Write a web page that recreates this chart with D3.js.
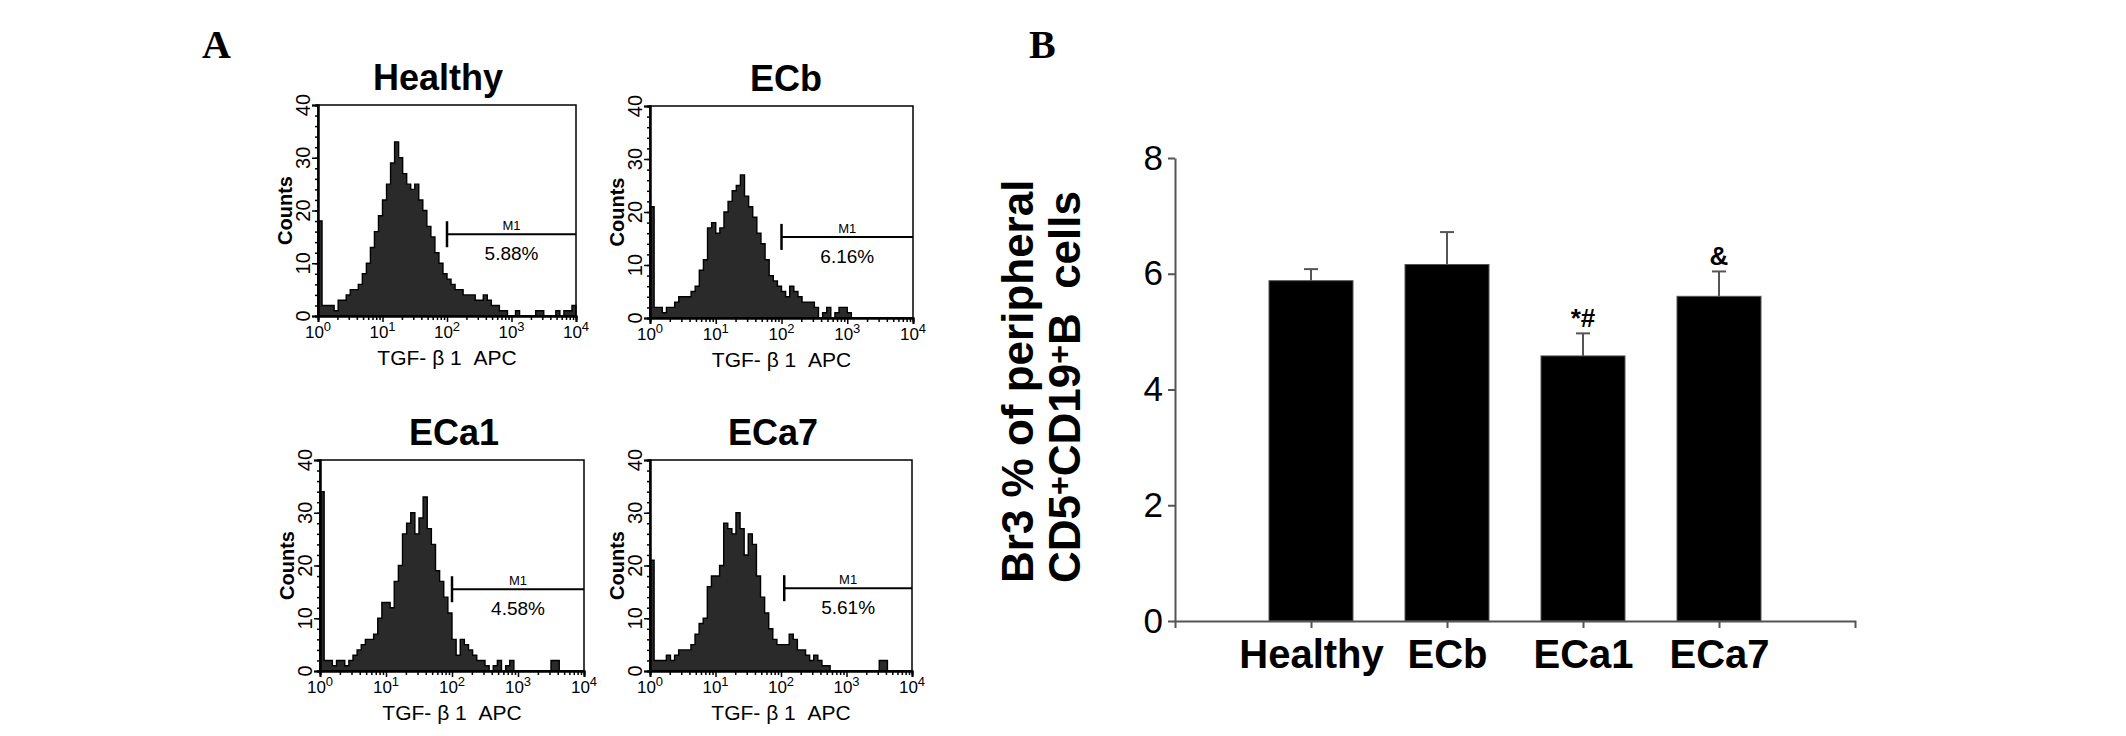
<!DOCTYPE html>
<html>
<head>
<meta charset="utf-8">
<script src="https://cdn.jsdelivr.net/npm/d3@7"></script>
<style>
body{margin:0;background:#fff;}
svg text{font-family:"Liberation Sans",Arial,Helvetica,sans-serif;fill:#000;}
</style>
</head>
<body>
<svg id="chart" width="2126" height="736"></svg>
<script>
// ---- panel A : flow histograms (64 channels, 16 per decade) ----
const hist_labels=["Healthy","ECb","ECa1","ECa7"];
const hist_healthy=[18,2,2,2,1,3,3,4,5,5,6,8,10,13,16,19, 22,25,29,33,30,27,25,24,25,22,20,17,15,12,10,8, 7,6,5,5,4,4,4,3,3,4,3,2,2,1,1,0, 0,1,0,0,0,0,1,1,0,0,0,1,0,1,1,2];
const hist_ecb=[21,2,2,1,2,2,3,4,4,4,5,6,9,11,17,18, 16,17,20,22,24,25,27,23,21,19,16,14,11,8,7,6, 5,4,6,5,4,3,3,3,2,0,1,2,0,1,2,2, 1,0,0,0,0,0,0,0,0,0,0,0,0,0,0,0];
const hist_eca1=[34,2,2,1,2,2,1,2,3,4,5,6,6,7,10,13, 13,12,17,20,26,28,30,26,29,33,27,24,19,17,14,11, 6,3,6,5,4,3,2,2,1,0,1,2,0,1,2,0, 0,0,0,0,0,0,0,0,2,2,0,0,0,0,0,0];
const hist_eca7=[21,2,2,2,3,2,3,4,4,4,5,7,9,10,16,18, 18,20,28,27,26,30,27,22,26,24,18,14,11,8,6,5, 5,5,7,6,4,4,3,2,3,2,1,1,0,0,0,0, 0,0,0,0,0,0,0,0,2,2,0,0,0,0,0,0];
const gate_start=[100,100,100,112];
const gate_level=[15.5,15.3,15.5,15.7];
const gate_pct=["5.88%","6.16%","4.58%","5.61%"];
const count_ticks=[0,10,20,30,40];
const decade_ticks=[1,10,100,1000,10000];
const decade_exp=["0","1","2","3","4"];

// ---- panel B : bar chart ----
const bar_groups=["Healthy","ECb","ECa1","ECa7"];
const bar_means=[5.88,6.16,4.58,5.61];
const bar_errors=[0.2,0.56,0.39,0.43];
const bar_marks=["","","*#","&"];
const bar_ticks=[0,2,4,6,8];

const svg=d3.select("#chart");
svg.append("rect").attr("width",2126).attr("height",736).attr("fill","#fff");

// panel letters
svg.append("text").attr("x",202).attr("y",58)
    .style("font-family","'Liberation Serif','Times New Roman',serif")
    .attr("font-weight","bold").attr("font-size",40).text("A");
svg.append("text").attr("x",1029).attr("y",58)
    .style("font-family","'Liberation Serif','Times New Roman',serif")
    .attr("font-weight","bold").attr("font-size",40).text("B");

// layout of the four histogram boxes
const panel_layout=[
    {x:318,y:105,w:258,h:211,title_x:438},
    {x:650,y:106,w:263,h:212,title_x:786},
    {x:320,y:460,w:264,h:211,title_x:454},
    {x:650,y:460,w:262,h:211,title_x:773}
];
const hist_values=[hist_healthy,hist_ecb,hist_eca1,hist_eca7];

function draw_histogram(p,values,k){
    const g=svg.append("g");
    const xs=d3.scaleLog().domain([1,1e4]).range([p.x,p.x+p.w]);
    const ys=d3.scaleLinear().domain([0,40]).range([p.y+p.h,p.y]);

    // title
    g.append("text")
        .attr("x",p.title_x).attr("y",p.y-15)
        .attr("text-anchor","middle")
        .attr("font-weight","bold").attr("font-size",36)
        .text(hist_labels[k]);

    // histogram (step area)
    const pts=values.map((v,i)=>({x:Math.pow(10,i/16),v:v}));
    pts.push({x:1e4,v:values[values.length-1]});
    const area=d3.area()
        .x(d=>xs(d.x)).y0(ys(0)).y1(d=>ys(d.v))
        .curve(d3.curveStepAfter);
    g.append("path").datum(pts)
        .attr("d",area)
        .attr("fill","#2a2a2a")
        .attr("stroke","#000")
        .attr("stroke-width",1.4);

    // frame
    g.append("rect")
        .attr("x",p.x).attr("y",p.y).attr("width",p.w).attr("height",p.h)
        .attr("fill","none").attr("stroke","#000").attr("stroke-width",1.5);

    // y axis: major + minor ticks
    const ya=g.append("g").attr("transform",`translate(${p.x},0)`)
        .call(d3.axisLeft(ys).tickValues(count_ticks).tickSize(6).tickFormat(""));
    const ym=g.append("g").attr("transform",`translate(${p.x},0)`)
        .call(d3.axisLeft(ys).tickValues(d3.range(0,41,2)).tickSize(3).tickFormat(""));
    [ya,ym].forEach(a=>{
        a.select(".domain").attr("stroke","#000").attr("stroke-width",2);
        a.selectAll(".tick line").attr("stroke","#000").attr("stroke-width",1.5);
    });
    for(const v of count_ticks){
        g.append("text")
            .attr("transform",`translate(${p.x-8},${ys(v)}) rotate(-90)`)
            .attr("text-anchor","middle")
            .attr("font-size",20)
            .text(v);
    }
    g.append("text")
        .attr("transform",`translate(${p.x-26},${p.y+p.h/2}) rotate(-90)`)
        .attr("text-anchor","middle")
        .attr("font-weight","bold").attr("font-size",20)
        .text("Counts");

    // x axis: decades + minor log ticks
    const minor=xs.ticks().filter(t=>!decade_ticks.includes(t));
    const xa=g.append("g").attr("transform",`translate(0,${p.y+p.h})`)
        .call(d3.axisBottom(xs).tickValues(decade_ticks).tickSize(6).tickFormat(""));
    const xm=g.append("g").attr("transform",`translate(0,${p.y+p.h})`)
        .call(d3.axisBottom(xs).tickValues(minor).tickSize(4).tickFormat(""));
    [xa,xm].forEach(a=>{
        a.select(".domain").attr("stroke","#000").attr("stroke-width",2);
        a.selectAll(".tick line").attr("stroke","#000").attr("stroke-width",1.5);
    });
    decade_ticks.forEach((t,i)=>{
        const tx=g.append("text")
            .attr("x",xs(t)).attr("y",p.y+p.h+22)
            .attr("text-anchor","middle")
            .attr("font-size",17);
        tx.append("tspan").text("10");
        tx.append("tspan").attr("dy",-7).attr("font-size",13).text(decade_exp[i]);
    });
    g.append("text")
        .attr("x",p.x+p.w/2).attr("y",p.y+p.h+49)
        .attr("text-anchor","middle")
        .attr("font-size",21)
        .style("white-space","pre")
        .text("TGF- \u03B2 1  APC");

    // M1 gate marker
    const gx=xs(gate_start[k]);
    const gy=ys(gate_level[k]);
    const gx2=p.x+p.w;
    g.append("line").attr("x1",gx).attr("x2",gx2).attr("y1",gy).attr("y2",gy)
        .attr("stroke","#000").attr("stroke-width",2);
    g.append("line").attr("x1",gx).attr("x2",gx).attr("y1",gy-13).attr("y2",gy+13)
        .attr("stroke","#000").attr("stroke-width",2.5);
    g.append("text")
        .attr("x",(gx+gx2)/2).attr("y",gy-4)
        .attr("text-anchor","middle").attr("font-size",13)
        .text("M1");
    g.append("text")
        .attr("x",(gx+gx2)/2).attr("y",gy+26)
        .attr("text-anchor","middle").attr("font-size",19)
        .text(gate_pct[k]);
}

panel_layout.forEach((p,k)=>draw_histogram(p,hist_values[k],k));

// ---- bar chart ----
const bx=d3.scalePoint().domain(bar_groups).range([1175,1855]).padding(1);
const by=d3.scaleLinear().domain([0,8]).range([621,158]);
const bar_w=84;

const bars=svg.append("g");
bar_groups.forEach((grp,i)=>{
    const cx=bx(grp);
    const top=by(bar_means[i]);
    const etop=by(bar_means[i]+bar_errors[i]);
    // error bar
    bars.append("line").attr("x1",cx).attr("x2",cx).attr("y1",top).attr("y2",etop)
        .attr("stroke","#555").attr("stroke-width",2);
    bars.append("line").attr("x1",cx-7).attr("x2",cx+7).attr("y1",etop).attr("y2",etop)
        .attr("stroke","#555").attr("stroke-width",2);
    bars.append("rect")
        .attr("x",cx-bar_w/2).attr("y",top)
        .attr("width",bar_w).attr("height",by(0)-top)
        .attr("fill","#000").attr("stroke","#555").attr("stroke-width",1);
    if(bar_marks[i]){
        bars.append("text")
            .attr("x",cx).attr("y",etop-6)
            .attr("text-anchor","middle")
            .attr("font-weight","bold").attr("font-size",26)
            .text(bar_marks[i]);
    }
});

const bya=svg.append("g").attr("transform","translate(1175,0)")
    .call(d3.axisLeft(by).tickValues(bar_ticks).tickSize(7).tickSizeOuter(0).tickPadding(5));
bya.select(".domain").attr("stroke","#555").attr("stroke-width",2);
bya.selectAll(".tick line").attr("stroke","#555").attr("stroke-width",2);
bya.selectAll(".tick text").attr("font-size",35).attr("fill","#111")
    .style("font-family","'Liberation Sans',Arial,sans-serif");

const bxa=svg.append("g").attr("transform","translate(0,621)")
    .call(d3.axisBottom(bx).tickSize(7).tickSizeOuter(7));
bxa.select(".domain").attr("stroke","#555").attr("stroke-width",2);
bxa.selectAll(".tick line").attr("stroke","#555").attr("stroke-width",2);
bxa.selectAll(".tick text")
    .attr("y",47).attr("dy",0)
    .attr("font-size",40).attr("font-weight","bold").attr("fill","#000")
    .style("font-family","'Liberation Sans',Arial,sans-serif");

// y label, two rotated lines
svg.append("text")
    .attr("transform","translate(1033,583) rotate(-90)")
    .attr("font-weight","bold").attr("font-size",44)
    .style("white-space","pre")
    .text("Br3 % of peripheral");
const yl2=svg.append("text")
    .attr("transform","translate(1080,583) rotate(-90)")
    .attr("font-weight","bold").attr("font-size",44)
    .style("white-space","pre");
yl2.append("tspan").text("CD5");
yl2.append("tspan").attr("dy",-10).attr("font-size",32).text("+");
yl2.append("tspan").attr("dy",10).text("CD19");
yl2.append("tspan").attr("dy",-10).attr("font-size",32).text("+");
yl2.append("tspan").attr("dy",10).text("B  cells");
</script>
</body>
</html>
